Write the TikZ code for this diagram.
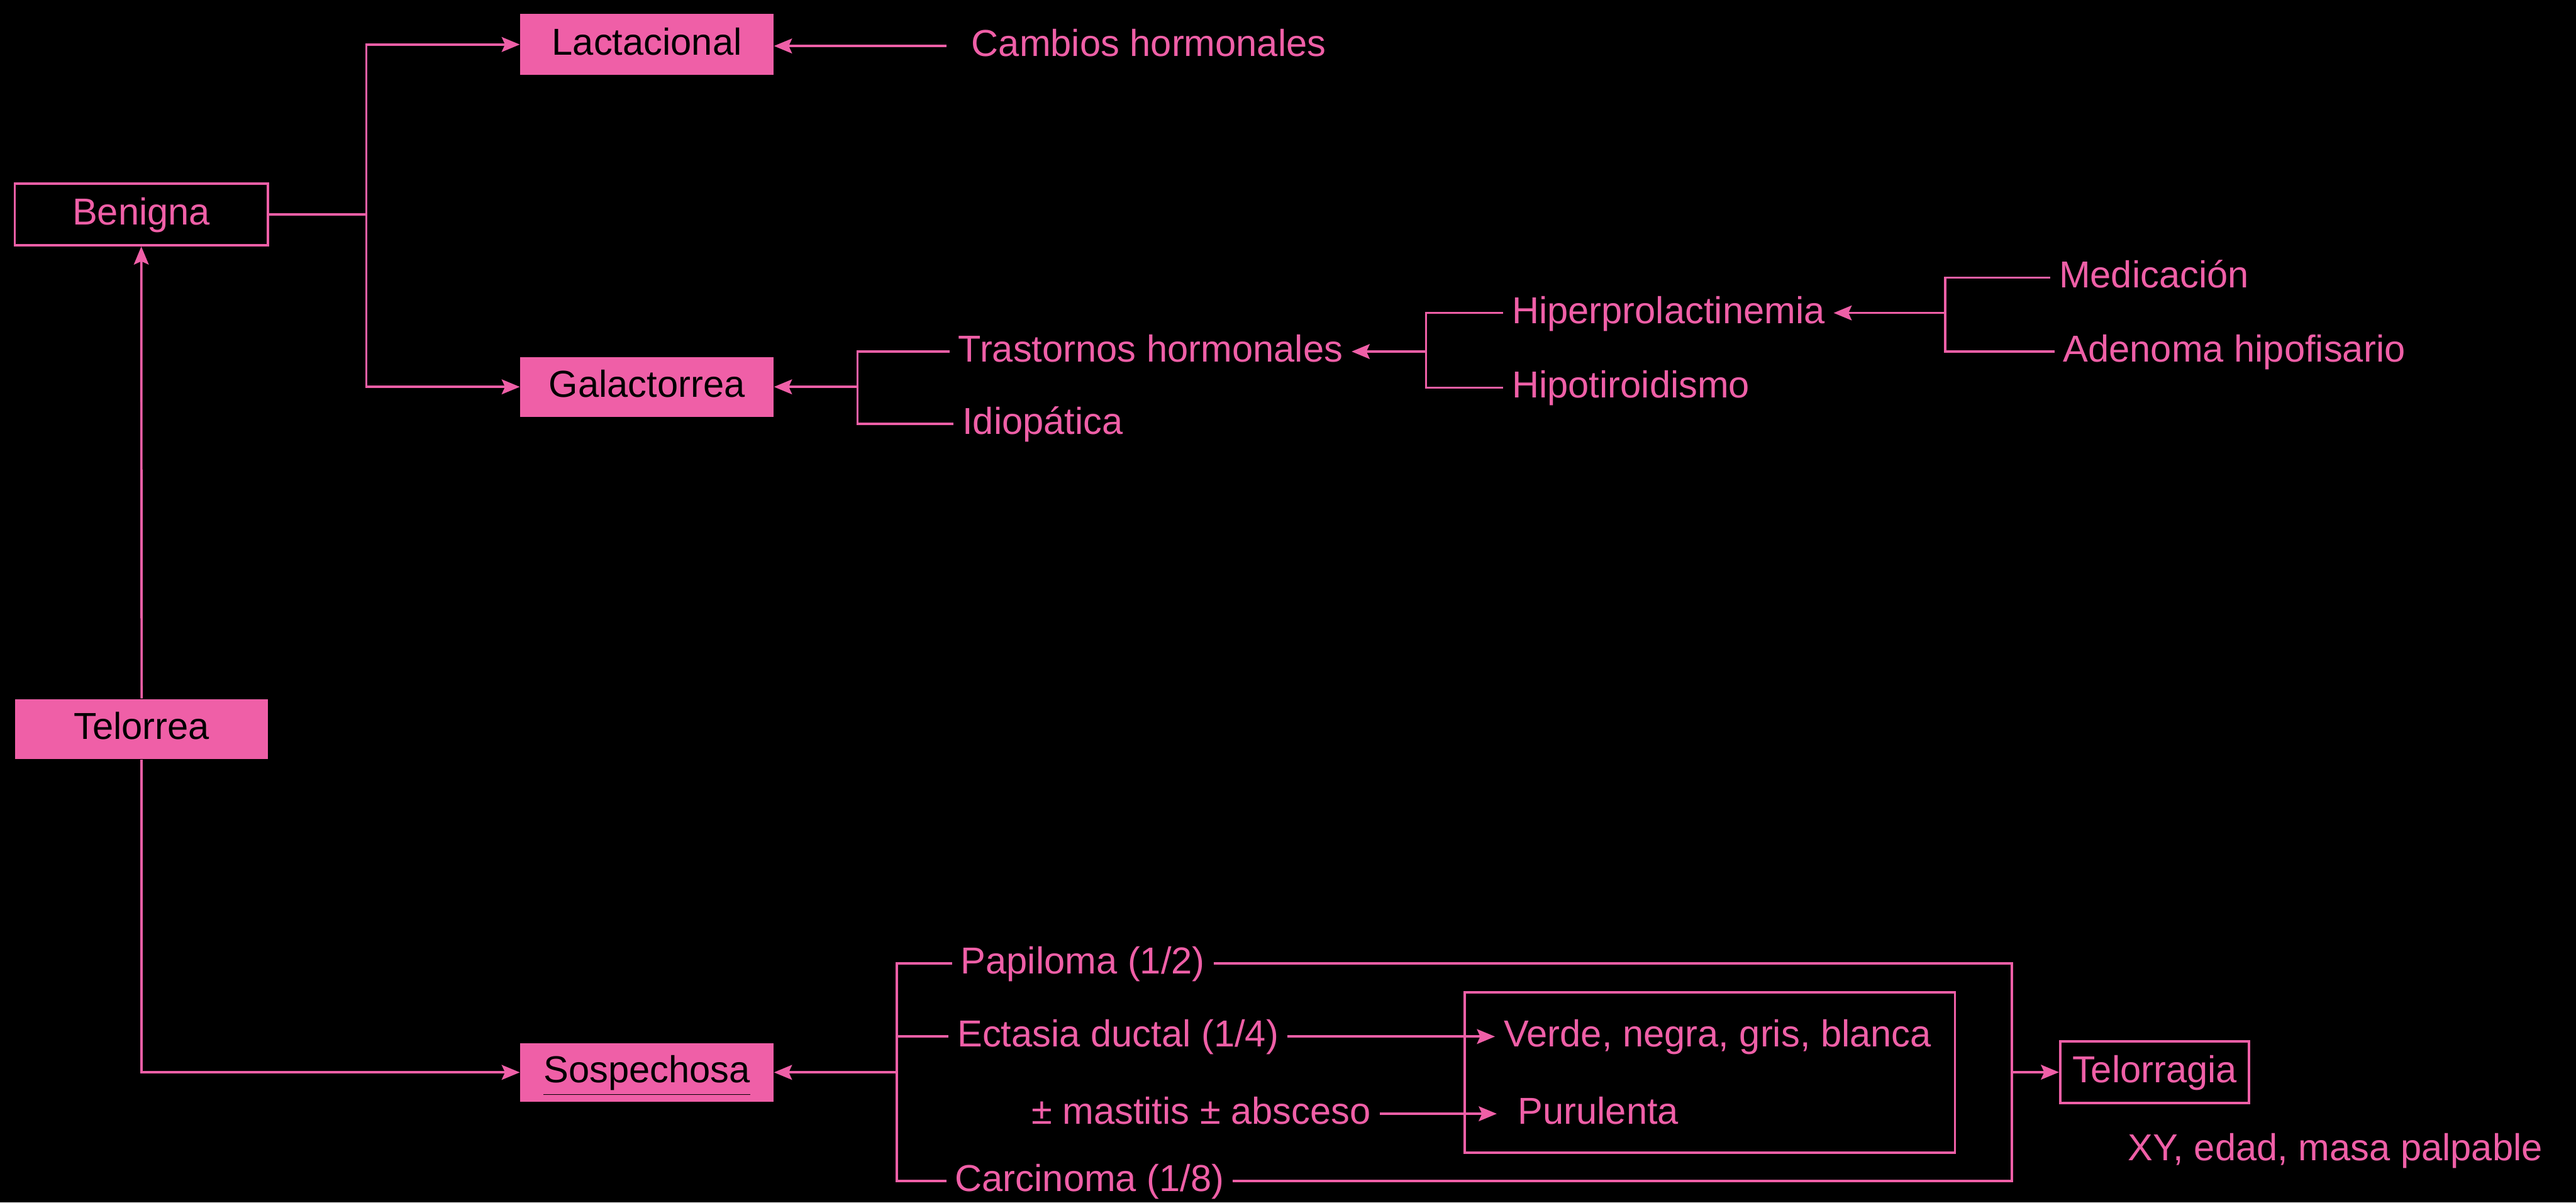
\documentclass[tikz,border=0pt]{standalone}
\usepackage{fontspec}
\setmainfont{Liberation Sans}
\usetikzlibrary{arrows.meta}
\definecolor{pk}{HTML}{EF5FA7}
\begin{document}
\begin{tikzpicture}[x=0.02cm,y=-0.02cm,
  font=\fontsize{13}{15}\selectfont,
  conn/.style={draw=pk, line width=0.8pt},
  arr/.style={conn, -{Stealth[length=0.22cm,width=0.18cm,inset=0.04cm]}},
  fbox/.style={fill=pk, text=black, minimum width=3.08cm, inner sep=0pt, text height=0.716em, text depth=0pt},
  obox/.style={draw=pk, line width=0.8pt, text=pk, minimum width=3.08cm, inner sep=0pt, text height=0.716em, text depth=0pt},
  txt/.style={text=pk, anchor=west, inner xsep=0.1cm, inner ysep=0pt, text height=0.716em, text depth=0pt}]
\useasboundingbox (0,0) rectangle (1568,732);
\fill[black] (0,0) rectangle (1568,732);
% boxes
\node[fbox, minimum height=0.74cm] (lac) at (393.75,27.1) {Lactacional};
\node[obox, minimum height=0.75cm] (ben) at (86,130.6) {Benigna};
\node[fbox, minimum height=0.73cm] (gal) at (393.75,235.5) {Galactorrea};
\node[fbox, minimum height=0.73cm] (tel) at (86.2,443.8) {Telorrea};
\node[fbox, minimum height=0.71cm] (sos) at (393.75,652.8) {\underline{Sospechosa}};
\node[obox, minimum width=2.3cm, minimum height=0.75cm] (tgr) at (1311.5,652.7) {Telorragia};
\node[draw=pk, line width=0.8pt, minimum width=5.97cm, minimum height=1.952cm, inner sep=0pt] (ibox) at (1040.75,652.8) {};
% texts
\node[txt] (cam) at (586,28) {Cambios hormonales};
\node[txt] (tra) at (578,214) {Trastornos hormonales};
\node[txt] (idi) at (580.5,258) {Idiopática};
\node[txt] (hip) at (915,190.5) {Hiperprolactinemia};
\node[txt] (hti) at (915,236) {Hipotiroidismo};
\node[txt] (med) at (1248,169) {Medicación};
\node[txt] (ade) at (1250.5,214) {Adenoma hipofisario};
\node[txt] (pap) at (579.5,586.5) {Papiloma (1/2)};
\node[txt] (ect) at (577.4,631) {Ectasia ductal (1/4)};
\node[txt] (mas) at (622.5,678) {± mastitis ± absceso};
\node[txt] (car) at (576,719) {Carcinoma (1/8)};
\node[txt] (ver) at (910,631) {Verde, negra, gris, blanca};
\node[txt] (pur) at (918.6,678) {Purulenta};
\node[txt] (xy) at (1290,700) {XY, edad, masa palpable};
% junction columns
\coordinate (bj) at (223,0);
\coordinate (gj) at (522,0);
\coordinate (hj) at (868,0);
\coordinate (mj) at (1184,0);
\coordinate (sj) at (546,0);
\coordinate (oj) at (1224.6,0);
% connectors
\draw[arr] (ben.east) -- (bj|-ben.east) |- (lac.west);
\draw[arr] (bj|-ben.east) |- (gal.west);
\draw[arr] ([xshift=-0.2cm]cam.west) -- (cam.west-|lac.east);
\draw[arr] (gj|-gal.east) -- (gal.east);
\draw[conn] (tra.west) -| (gj|-idi.west) -- (idi.west);
\draw[arr] (hj|-tra.east) -- (tra.east);
\draw[conn] (hip.west) -| (hj|-hti.west) -- (hti.west);
\draw[arr] (mj|-hip.east) -- (hip.east);
\draw[conn] (med.west) -| (mj|-ade.west) -- (ade.west);
\draw[arr] (tel.north) -- (ben.south);
\draw[arr] (tel.south) |- (sos.west);
\draw[arr] (sj|-sos.east) -- (sos.east);
\draw[conn] (pap.west) -| (sj|-car.west) -- (car.west);
\draw[conn] (sj|-ect.west) -- (ect.west);
\draw[conn] (pap.east) -| (oj|-car.east) -- (car.east);
\draw[arr] (oj|-tgr.west) -- (tgr.west);
\draw[arr] (ect.east) -- (ver.west);
\draw[arr] (mas.east) -- ([xshift=-0.15cm]pur.west);
\end{tikzpicture}
\end{document}
